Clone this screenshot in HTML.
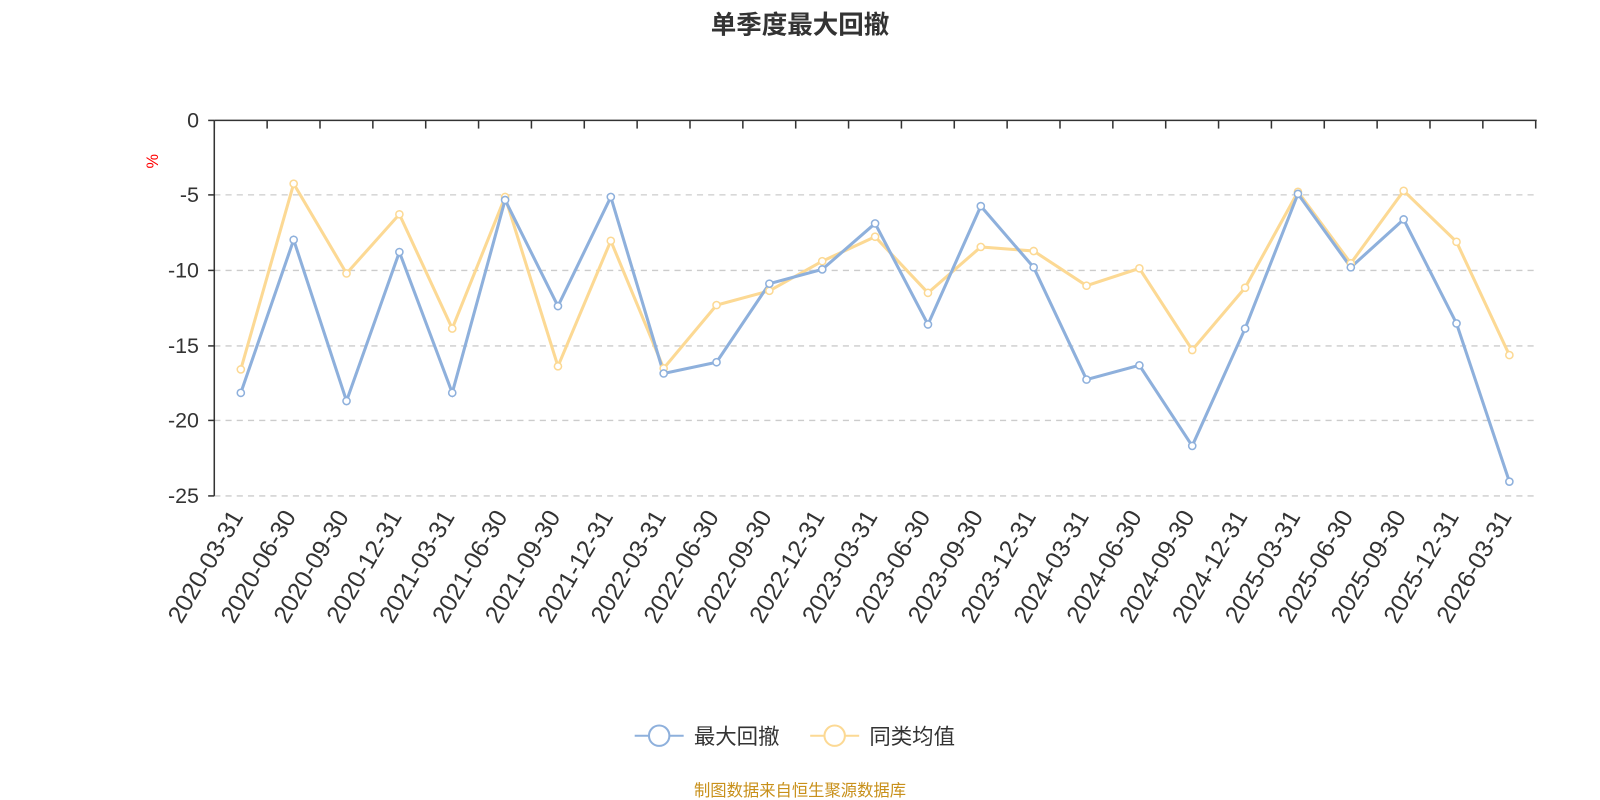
<!DOCTYPE html>
<html><head><meta charset="utf-8"><style>
html,body{margin:0;padding:0;background:#fff;overflow:hidden;width:1600px;height:800px;}
svg{display:block;}
svg text{font-family:"Liberation Sans","Noto Sans CJK SC",sans-serif;}
</style></head><body>
<svg width="1600" height="800" viewBox="0 0 1600 800" xmlns="http://www.w3.org/2000/svg">
<g transform="scale(1.0204)">
<text x="784" y="33" text-anchor="middle" font-size="25" font-weight="bold" fill="#333">单季度最大回撤</text>
<g stroke="#ccc" stroke-dasharray="6,5" stroke-width="1.3">
<line x1="210" x2="1505" y1="191" y2="191"/><line x1="210" x2="1505" y1="265" y2="265"/>
<line x1="210" x2="1505" y1="339" y2="339"/><line x1="210" x2="1505" y1="412" y2="412"/>
<line x1="210" x2="1505" y1="486" y2="486"/></g>
<g stroke="#333" stroke-width="1.5">
<line x1="210" x2="1506" y1="118" y2="118"/><line x1="210" x2="210" y1="118" y2="486"/>
<line x1="204" x2="210" y1="118" y2="118"/><line x1="204" x2="210" y1="191" y2="191"/><line x1="204" x2="210" y1="265" y2="265"/><line x1="204" x2="210" y1="339" y2="339"/><line x1="204" x2="210" y1="412" y2="412"/><line x1="204" x2="210" y1="486" y2="486"/>
</g>
<g id="ticks" stroke="#333" stroke-width="1.5"></g>
<g font-size="21" fill="#333" text-anchor="end">
<text x="195" y="125">0</text><text x="195" y="198">-5</text><text x="195" y="272">-10</text><text x="195" y="346">-15</text><text x="195" y="419">-20</text><text x="195" y="493">-25</text></g>
<text x="155" y="158" font-size="16" fill="red" transform="rotate(-90 155 158)" text-anchor="middle">%</text>
<g id="xl" font-size="24" fill="#333" text-anchor="end"></g>
<polyline id="l2" fill="none" stroke="#fcd994" stroke-width="3"/>
<polyline id="l1" fill="none" stroke="#8eb0dc" stroke-width="3"/>
<g id="p2"></g><g id="p1"></g>
<line x1="622" x2="670" y1="721" y2="721" stroke="#8eb0dc" stroke-width="2"/>
<circle cx="646" cy="721" r="10" fill="#fff" stroke="#8eb0dc" stroke-width="2"/>
<text x="680" y="729" font-size="21" fill="#333">最大回撤</text>
<line x1="794" x2="842" y1="721" y2="721" stroke="#fcd994" stroke-width="2"/>
<circle cx="818" cy="721" r="10" fill="#fff" stroke="#fcd994" stroke-width="2"/>
<text x="852" y="729" font-size="21" fill="#333">同类均值</text>
<text x="784" y="780" font-size="16" fill="#c8901a" text-anchor="middle">制图数据来自恒生聚源数据库</text>
</g>
</svg>
<script>
var labs=[],d=['03-31','06-30','09-30','12-31'];
for(var y=2020;y<=2026;y++)for(var q=0;q<4;q++){if(y==2026&&q>0)break;labs.push(y+'-'+d[q]);}
var b=[385,235,393,247,385,196,300,193,366,355,278,264,219,318,202,262,372,358,437,322,190,262,215,317,472];
var yv=[362,180,268,210,322,193,359,236,361,299,285,256,232,287,242,246,280,263,343,282,188,258,187,237,348];
var ns='http://www.w3.org/2000/svg',step=1295/25;
function el(t,a,p){var e=document.createElementNS(ns,t);for(var k in a)e.setAttribute(k,a[k]);document.getElementById(p).appendChild(e);return e;}
var s1='',s2='';
for(var i=0;i<=25;i++){var tx=210+i*step;el('line',{x1:tx,x2:tx,y1:118,y2:126},'ticks');}
for(var i=0;i<25;i++){var x=236+i*step;s1+=x+','+b[i]+' ';s2+=x+','+yv[i]+' ';
el('circle',{cx:x,cy:b[i],r:3.5,fill:'#fff',stroke:'#8eb0dc','stroke-width':1.5},'p1');
el('circle',{cx:x,cy:yv[i],r:3.5,fill:'#fff',stroke:'#fcd994','stroke-width':1.5},'p2');
var t=el('text',{x:x+3,y:506,transform:'rotate(-60 '+(x+3)+' 506)'},'xl');t.textContent=labs[i];}
document.getElementById('l1').setAttribute('points',s1);document.getElementById('l2').setAttribute('points',s2);
</script>
</body></html>
